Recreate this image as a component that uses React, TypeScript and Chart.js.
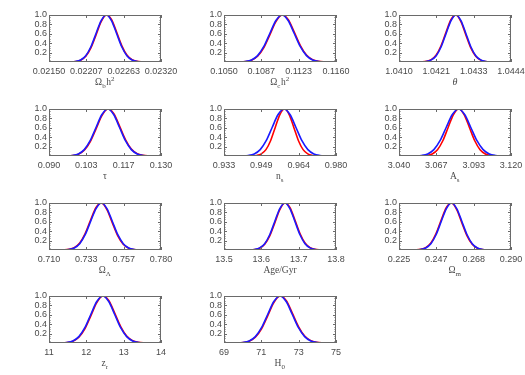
import React, { useEffect, useRef } from 'react';
import { Chart, registerables } from 'chart.js';

Chart.register(...registerables);

// ---------- tick labels (x axes) ----------
const obTicks = ['0.02150', '0.02207', '0.02263', '0.02320'];
const ocTicks = ['0.1050', '0.1087', '0.1123', '0.1160'];
const thTicks = ['1.0410', '1.0421', '1.0433', '1.0444'];
const tauTicks = ['0.090', '0.103', '0.117', '0.130'];
const nsTicks = ['0.933', '0.949', '0.964', '0.980'];
const asTicks = ['3.040', '3.067', '3.093', '3.120'];
const olTicks = ['0.710', '0.733', '0.757', '0.780'];
const ageTicks = ['13.5', '13.6', '13.7', '13.8'];
const omTicks = ['0.225', '0.247', '0.268', '0.290'];
const zrTicks = ['11', '12', '13', '14'];
const h0Ticks = ['69', '71', '73', '75'];
const yTicks = [0.2, 0.4, 0.6, 0.8, 1.0];

// ---------- series ----------
// Omega_b h^2
const obX = [0.021746, 0.021824, 0.021902, 0.02198, 0.022058, 0.022136, 0.022214, 0.022292, 0.02237, 0.022448, 0.022526, 0.022604, 0.022682, 0.02276, 0.022838, 0.022916, 0.022994];
const obBlue = [0.0, 0.002, 0.011, 0.044, 0.135, 0.325, 0.607, 0.882, 1.0, 0.882, 0.607, 0.325, 0.135, 0.044, 0.011, 0.002, 0.0];
const obRed = [0.0, 0.002, 0.01, 0.039, 0.122, 0.301, 0.576, 0.86, 0.999, 0.904, 0.637, 0.35, 0.149, 0.05, 0.013, 0.003, 0.0];
// Omega_c h^2
const ocX = [0.1059, 0.1065, 0.1071, 0.1077, 0.1083, 0.1089, 0.1095, 0.1101, 0.1107, 0.1113, 0.1119, 0.1125, 0.1131, 0.1137, 0.1143, 0.1149, 0.1155];
const ocBlue = [0.0, 0.002, 0.011, 0.044, 0.135, 0.325, 0.607, 0.882, 1.0, 0.882, 0.607, 0.325, 0.135, 0.044, 0.011, 0.002, 0.0];
const ocRed = [0.0, 0.002, 0.01, 0.039, 0.122, 0.301, 0.576, 0.86, 0.999, 0.904, 0.637, 0.35, 0.149, 0.05, 0.013, 0.003, 0.0];
// theta
const thX = [1.04153, 1.04168, 1.04183, 1.04198, 1.04213, 1.04228, 1.04243, 1.04258, 1.04273, 1.04288, 1.04303, 1.04318, 1.04333, 1.04348, 1.04363, 1.04378, 1.04393];
const thBlue = [0.0, 0.002, 0.011, 0.044, 0.135, 0.325, 0.607, 0.882, 1.0, 0.882, 0.607, 0.325, 0.135, 0.044, 0.011, 0.002, 0.0];
const thRed = [0.0, 0.003, 0.013, 0.05, 0.149, 0.35, 0.637, 0.904, 0.999, 0.86, 0.576, 0.301, 0.122, 0.039, 0.01, 0.002, 0.0];
// tau
const tauX = [0.0942, 0.0963, 0.0984, 0.1005, 0.1026, 0.1047, 0.1068, 0.1089, 0.111, 0.1131, 0.1152, 0.1173, 0.1194, 0.1215, 0.1236, 0.1257, 0.1278];
const tauBlue = [0.0, 0.002, 0.011, 0.044, 0.135, 0.325, 0.607, 0.882, 1.0, 0.882, 0.607, 0.325, 0.135, 0.044, 0.011, 0.002, 0.0];
const tauRed = [0.0, 0.002, 0.01, 0.039, 0.122, 0.301, 0.576, 0.86, 0.999, 0.904, 0.637, 0.35, 0.149, 0.05, 0.013, 0.003, 0.0];
// n_s
const nsBlueX = [0.9382, 0.9407, 0.9432, 0.9457, 0.9482, 0.9507, 0.9532, 0.9557, 0.9582, 0.9607, 0.9632, 0.9657, 0.9682, 0.9707, 0.9732, 0.9757, 0.9782];
const nsBlue = [0.0, 0.002, 0.011, 0.044, 0.135, 0.325, 0.607, 0.882, 1.0, 0.882, 0.607, 0.325, 0.135, 0.044, 0.011, 0.002, 0.0];
const nsRedX = [0.9428, 0.94475, 0.9467, 0.94865, 0.9506, 0.95255, 0.9545, 0.95645, 0.9584, 0.96035, 0.9623, 0.96425, 0.9662, 0.96815, 0.9701, 0.97205, 0.974];
const nsRed = [0.0, 0.002, 0.011, 0.044, 0.135, 0.325, 0.607, 0.882, 1.0, 0.882, 0.607, 0.325, 0.135, 0.044, 0.011, 0.002, 0.0];
// A_s
const asBlueX = [3.0473, 3.0517, 3.0561, 3.0605, 3.0649, 3.0693, 3.0737, 3.0781, 3.0825, 3.0869, 3.0913, 3.0957, 3.1001, 3.1045, 3.1089, 3.1133, 3.1177];
const asBlue = [0.0, 0.002, 0.011, 0.044, 0.135, 0.325, 0.607, 0.882, 1.0, 0.882, 0.607, 0.325, 0.135, 0.044, 0.011, 0.002, 0.0];
const asRedX = [3.0523, 3.0561, 3.0599, 3.0637, 3.0675, 3.0713, 3.0751, 3.0789, 3.0827, 3.0865, 3.0903, 3.0941, 3.0979, 3.1017, 3.1055, 3.1093, 3.1131];
const asRed = [0.0, 0.002, 0.011, 0.044, 0.135, 0.325, 0.607, 0.882, 1.0, 0.882, 0.607, 0.325, 0.135, 0.044, 0.011, 0.002, 0.0];
// Omega_Lambda
const olX = [0.7156, 0.719, 0.7224, 0.7258, 0.7292, 0.7326, 0.736, 0.7394, 0.7428, 0.7462, 0.7496, 0.753, 0.7564, 0.7598, 0.7632, 0.7666, 0.77];
const olBlue = [0.0, 0.002, 0.011, 0.044, 0.135, 0.325, 0.607, 0.882, 1.0, 0.882, 0.607, 0.325, 0.135, 0.044, 0.011, 0.002, 0.0];
const olRed = [0.0, 0.003, 0.013, 0.05, 0.149, 0.35, 0.637, 0.904, 0.999, 0.86, 0.576, 0.301, 0.122, 0.039, 0.01, 0.002, 0.0];
// Age / Gyr
const ageX = [13.555, 13.5685, 13.582, 13.5955, 13.609, 13.6225, 13.636, 13.6495, 13.663, 13.6765, 13.69, 13.7035, 13.717, 13.7305, 13.744, 13.7575, 13.771];
const ageBlue = [0.0, 0.002, 0.011, 0.044, 0.135, 0.325, 0.607, 0.882, 1.0, 0.882, 0.607, 0.325, 0.135, 0.044, 0.011, 0.002, 0.0];
const ageRed = [0.0, 0.002, 0.01, 0.039, 0.122, 0.301, 0.576, 0.86, 0.999, 0.904, 0.637, 0.35, 0.149, 0.05, 0.013, 0.003, 0.0];
// Omega_m
const omX = [0.2315, 0.2345, 0.2375, 0.2405, 0.2435, 0.2465, 0.2495, 0.2525, 0.2555, 0.2585, 0.2615, 0.2645, 0.2675, 0.2705, 0.2735, 0.2765, 0.2795];
const omBlue = [0.0, 0.002, 0.011, 0.044, 0.135, 0.325, 0.607, 0.882, 1.0, 0.882, 0.607, 0.325, 0.135, 0.044, 0.011, 0.002, 0.0];
const omRed = [0.0, 0.003, 0.013, 0.05, 0.149, 0.35, 0.637, 0.904, 0.999, 0.86, 0.576, 0.301, 0.122, 0.039, 0.01, 0.002, 0.0];
// z_r
const zrX = [11.16, 11.32, 11.48, 11.64, 11.8, 11.96, 12.12, 12.28, 12.44, 12.6, 12.76, 12.92, 13.08, 13.24, 13.4, 13.56, 13.72];
const zrBlue = [0.0, 0.002, 0.011, 0.044, 0.135, 0.325, 0.607, 0.882, 1.0, 0.882, 0.607, 0.325, 0.135, 0.044, 0.011, 0.002, 0.0];
const zrRed = [0.0, 0.002, 0.01, 0.039, 0.122, 0.301, 0.576, 0.86, 0.999, 0.904, 0.637, 0.35, 0.149, 0.05, 0.013, 0.003, 0.0];
// H_0
const h0X = [69.36, 69.69, 70.02, 70.35, 70.68, 71.01, 71.34, 71.67, 72.0, 72.33, 72.66, 72.99, 73.32, 73.65, 73.98, 74.31, 74.64];
const h0Blue = [0.0, 0.002, 0.011, 0.044, 0.135, 0.325, 0.607, 0.882, 1.0, 0.882, 0.607, 0.325, 0.135, 0.044, 0.011, 0.002, 0.0];
const h0Red = [0.0, 0.002, 0.01, 0.039, 0.122, 0.301, 0.576, 0.86, 0.999, 0.904, 0.637, 0.35, 0.149, 0.05, 0.013, 0.003, 0.0];

// ---------- axis titles: [text, 'n' | 'i' | 'sub' | 'sup'] ----------
type Part = [string, string];
const obTitle: Part[] = [['Ω', 'n'], ['b', 'sub'], ['h', 'n'], ['2', 'sup']];
const ocTitle: Part[] = [['Ω', 'n'], ['c', 'sub'], ['h', 'n'], ['2', 'sup']];
const thTitle: Part[] = [['θ', 'i']];
const tauTitle: Part[] = [['τ', 'n']];
const nsTitle: Part[] = [['n', 'n'], ['s', 'sub']];
const asTitle: Part[] = [['A', 'n'], ['s', 'sub']];
const olTitle: Part[] = [['Ω', 'n'], ['Λ', 'sub']];
const ageTitle: Part[] = [['Age/Gyr', 'n']];
const omTitle: Part[] = [['Ω', 'n'], ['m', 'sub']];
const zrTitle: Part[] = [['z', 'n'], ['r', 'sub']];
const h0Title: Part[] = [['H', 'n'], ['0', 'sub']];

const panels = [
  { ticks: obTicks, title: obTitle, blueX: obX, blue: obBlue, redX: obX, red: obRed },
  { ticks: ocTicks, title: ocTitle, blueX: ocX, blue: ocBlue, redX: ocX, red: ocRed },
  { ticks: thTicks, title: thTitle, blueX: thX, blue: thBlue, redX: thX, red: thRed },
  { ticks: tauTicks, title: tauTitle, blueX: tauX, blue: tauBlue, redX: tauX, red: tauRed },
  { ticks: nsTicks, title: nsTitle, blueX: nsBlueX, blue: nsBlue, redX: nsRedX, red: nsRed },
  { ticks: asTicks, title: asTitle, blueX: asBlueX, blue: asBlue, redX: asRedX, red: asRed },
  { ticks: olTicks, title: olTitle, blueX: olX, blue: olBlue, redX: olX, red: olRed },
  { ticks: ageTicks, title: ageTitle, blueX: ageX, blue: ageBlue, redX: ageX, red: ageRed },
  { ticks: omTicks, title: omTitle, blueX: omX, blue: omBlue, redX: omX, red: omRed },
  { ticks: zrTicks, title: zrTitle, blueX: zrX, blue: zrBlue, redX: zrX, red: zrRed },
  { ticks: h0Ticks, title: h0Title, blueX: h0X, blue: h0Blue, redX: h0X, red: h0Red },
];

// layout
const COL_LEFT = [49, 224, 399];
const ROW_TOP = [15, 109, 203, 296];
const PLOT_W = 112;
const PLOT_H = 47;
const PAD_L = 45;
const PAD_T = 8;
const PAD_R = 24;
const PAD_B = 32;
const CW = PAD_L + PLOT_W + PAD_R;
const CH = PAD_T + PLOT_H + PAD_B;

const TICK_FONT = { family: "'Liberation Sans', Arial, sans-serif", size: 9 };
const TEXT_COLOR = '#4a4a4a';
const AXIS_COLOR = '#6a6a6a';

function makeBoxPlugin(title: Part[]) {
  return {
    id: 'idlBox',
    afterDraw(chart: any) {
      const { ctx, chartArea } = chart;
      const { left, right, top, bottom } = chartArea;
      const xs = chart.scales.x;
      const ys = chart.scales.y;
      ctx.save();
      ctx.strokeStyle = AXIS_COLOR;
      ctx.lineWidth = 1;
      ctx.strokeRect(Math.round(left) + 0.5, Math.round(top) + 0.5, Math.round(right - left) - 1, Math.round(bottom - top) - 1);
      ctx.beginPath();
      xs.ticks.forEach((t: any) => {
        const px = Math.round(xs.getPixelForValue(t.value)) + 0.5;
        ctx.moveTo(px, bottom);
        ctx.lineTo(px, bottom - 3);
        ctx.moveTo(px, top);
        ctx.lineTo(px, top + 3);
      });
      for (let k = 1; k < 20; k++) {
        const v = k * 0.05;
        const py = Math.round(ys.getPixelForValue(v)) + 0.5;
        const len = k % 4 === 0 ? 3 : 1.5;
        ctx.moveTo(left, py);
        ctx.lineTo(left + len, py);
        ctx.moveTo(right, py);
        ctx.lineTo(right - len, py);
      }
      ctx.stroke();

      // axis title
      const base = "'Liberation Serif', 'DejaVu Serif', serif";
      const fontFor = (mode: string) =>
        mode === 'sub' || mode === 'sup' ? `7px ${base}` : mode === 'i' ? `italic 10px ${base}` : `9.5px ${base}`;
      let total = 0;
      title.forEach(([txt, mode]) => {
        ctx.font = fontFor(mode);
        total += ctx.measureText(txt).width + (mode === 'sub' || mode === 'sup' ? 0.5 : 0);
      });
      let x = (left + right) / 2 - total / 2;
      const baseY = bottom + 23;
      ctx.fillStyle = TEXT_COLOR;
      ctx.textBaseline = 'alphabetic';
      ctx.textAlign = 'left';
      title.forEach(([txt, mode]) => {
        ctx.font = fontFor(mode);
        const dy = mode === 'sub' ? 2.5 : mode === 'sup' ? -4 : 0;
        ctx.fillText(txt, x, baseY + dy);
        x += ctx.measureText(txt).width + (mode === 'sub' || mode === 'sup' ? 0.5 : 0);
      });
      ctx.restore();
    },
  };
}

function Panel({ p, left, top }: { p: any; left: number; top: number }) {
  const ref = useRef<HTMLCanvasElement | null>(null);
  useEffect(() => {
    if (!ref.current) return;
    const min = parseFloat(p.ticks[0]);
    const max = parseFloat(p.ticks[p.ticks.length - 1]);
    const chart = new Chart(ref.current, {
      type: 'line',
      data: {
        datasets: [
          {
            data: p.blueX.map((x: number, i: number) => ({ x, y: p.blue[i] })),
            borderColor: '#1a1aff',
            borderWidth: 1.6,
            pointRadius: 0,
            cubicInterpolationMode: 'monotone',
            fill: false,
          },
          {
            data: p.redX.map((x: number, i: number) => ({ x, y: p.red[i] })),
            borderColor: '#ff0000',
            borderWidth: 1.6,
            pointRadius: 0,
            cubicInterpolationMode: 'monotone',
            fill: false,
          },
        ],
      },
      options: {
        animation: false,
        responsive: false,
        devicePixelRatio: 1,
        events: [],
        layout: { padding: { top: PAD_T, right: PAD_R, left: 0, bottom: 0 } },
        plugins: { legend: { display: false }, tooltip: { enabled: false } },
        scales: {
          x: {
            type: 'linear',
            min,
            max,
            grid: { display: false, drawTicks: false },
            border: { display: false },
            afterBuildTicks: (s: any) => {
              s.ticks = p.ticks.map((_: string, i: number) => ({ value: min + (i * (max - min)) / (p.ticks.length - 1) }));
            },
            afterFit: (s: any) => {
              s.height = PAD_B;
              s.paddingLeft = 0;
              s.paddingRight = 0;
            },
            ticks: {
              autoSkip: false,
              maxRotation: 0,
              minRotation: 0,
              padding: 4,
              color: TEXT_COLOR,
              font: TICK_FONT,
              callback: (_v: any, i: number) => p.ticks[i],
            },
          },
          y: {
            type: 'linear',
            min: 0,
            max: 1,
            grid: { display: false, drawTicks: false },
            border: { display: false },
            afterBuildTicks: (s: any) => {
              s.ticks = yTicks.map((v) => ({ value: v }));
            },
            afterFit: (s: any) => {
              s.width = PAD_L;
              s.paddingTop = 0;
              s.paddingBottom = 0;
            },
            ticks: {
              autoSkip: false,
              padding: 2,
              color: TEXT_COLOR,
              font: TICK_FONT,
              callback: (v: any) => Number(v).toFixed(1),
            },
          },
        },
      } as any,
      plugins: [makeBoxPlugin(p.title)],
    });
    return () => chart.destroy();
  }, [p]);
  return (
    <canvas
      ref={ref}
      width={CW}
      height={CH}
      style={{ position: 'absolute', left, top, width: CW, height: CH }}
    />
  );
}

export default function App() {
  return (
    <div style={{ position: 'absolute', left: 0, top: 0, width: 525, height: 375, background: '#fff', overflow: 'hidden' }}>
      {panels.map((p, i) => (
        <Panel key={i} p={p} left={COL_LEFT[i % 3] - PAD_L} top={ROW_TOP[Math.floor(i / 3)] - PAD_T} />
      ))}
    </div>
  );
}
